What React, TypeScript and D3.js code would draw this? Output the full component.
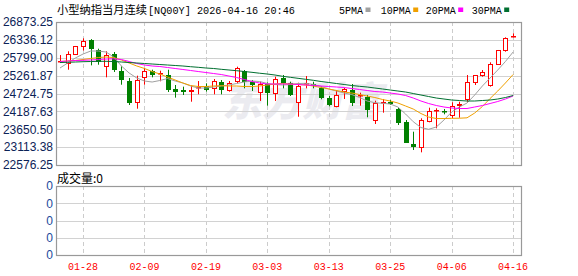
import React from "react";
import * as d3 from "d3";

const dates = [
  "01-23","01-26","01-27","01-28","01-29","01-30","02-02","02-03","02-04","02-05",
  "02-06","02-09","02-10","02-11","02-12","02-13","02-16","02-17","02-18","02-19",
  "02-20","02-23","02-24","02-25","02-26","02-27","03-02","03-03","03-04","03-05",
  "03-06","03-09","03-10","03-11","03-12","03-13","03-16","03-17","03-18","03-19",
  "03-20","03-23","03-24","03-25","03-26","03-27","03-30","03-31","04-01","04-02",
  "04-03","04-06","04-07","04-08","04-09","04-10","04-13","04-14","04-15","04-16",
];

const opens = [
  25680,25641,25891,26163,26340,26041,25572,25912,25391,25091,
  24469,25242,25410,25320,25290,24860,24829,24760,24900,24950,
  24880,25060,24830,25079,25400,25060,24760,25000,24730,25200,
  25030,24478,25040,25010,24880,24580,24349,24770,24820,24680,
  24630,23950,24440,24478,24249,23878,23198,23126,23898,24200,
  24190,24099,24358,24559,25079,25260,24980,25611,26011,26413,
];
const highs = [
  25880,25993,26153,26383,26360,26071,25993,25972,25541,25190,
  25260,25491,25440,25410,25440,24980,24930,24960,25100,25030,
  25160,25130,25100,25530,25430,25130,25079,25060,25230,25280,
  25079,25049,25250,25079,24950,24650,24830,24890,25010,24750,
  24680,24508,24560,24530,24310,23928,23577,23979,24298,24280,
  24259,24460,24478,25280,25280,25430,25662,26032,26413,26533,
];
const lows = [
  25640,25440,25882,26015,25570,25590,25211,25371,24989,24379,
  24268,24989,25211,25091,24770,24600,24680,24478,24700,24780,
  24700,24700,24780,25030,24880,24800,24500,24358,24500,24880,
  24650,24027,24880,24880,24550,24340,24310,24560,24349,24358,
  24010,23808,24148,24380,23778,23258,23027,22957,23859,23679,
  24099,23979,23997,24478,24980,25230,24930,25581,25981,26413,
];
const closes = [
  25692,25921,26143,26311,26070,25692,25891,25440,25109,24439,
  25121,25410,25290,25330,24839,24779,24760,24820,24930,24830,
  25100,24830,25030,25482,25055,24980,25000,24730,25160,25060,
  24680,24950,25055,24950,24580,24358,24680,24845,24430,24690,
  24229,24448,24478,24410,23830,23258,23097,23928,24199,24215,
  24160,24358,24410,25060,25280,25362,25602,26032,26383,26452,
];

const ma5 = [
  25491,25641,25791,25911,26001,26001,25971,25821,25551,25340,
  25190,25100,25070,25115,25175,25100,25040,24950,24890,24890,
  24920,24950,24980,25025,25070,25100,25085,25025,24995,24980,
  24995,25025,25031,24995,24935,24860,24799,24739,24694,24604,
  24499,24448,24430,24409,24319,24108,23877,23703,23649,23718,
  23928,24168,24319,24439,24679,24950,25190,25431,25686,25971,
];
const ma10 = [
  25686,25701,25716,25746,25776,25806,25821,25806,25731,25641,
  25551,25476,25385,25310,25220,25130,25040,24965,24935,24935,
  24950,24959,24950,24950,24935,24935,24950,24980,25010,25025,
  25010,24995,24980,24950,24905,24860,24815,24769,24739,24694,
  24649,24604,24544,24499,24439,24349,24258,24123,24018,23973,
  23973,23979,23982,23994,24138,24334,24574,24799,25040,25295,
];
const ma20 = [
  25686,25701,25716,25722,25731,25746,25761,25767,25746,25686,
  25626,25581,25551,25536,25506,25476,25446,25416,25385,25355,
  25325,25295,25250,25205,25145,25085,25040,25010,25010,25010,
  25010,24995,24980,24965,24950,24935,24920,24905,24875,24845,
  24815,24784,24769,24739,24709,24664,24589,24499,24424,24364,
  24319,24289,24274,24274,24319,24364,24424,24484,24559,24649,
];
const ma30 = [
  25656,25662,25671,25680,25686,25692,25692,25686,25671,25656,
  25641,25626,25611,25596,25581,25566,25551,25530,25512,25491,
  25476,25452,25431,25410,25385,25361,25334,25310,25280,25241,
  25211,25181,25151,25121,25085,25055,25025,24995,24965,24941,
  24920,24890,24860,24829,24799,24769,24724,24679,24634,24589,
  24559,24529,24514,24499,24499,24514,24529,24559,24604,24664,
];

const yTicks = [26873.25, 26336.12, 25799.0, 25261.87, 24724.75, 24187.63, 23650.5, 23113.38, 22576.25];
const xTickDates = ["01-28", "02-09", "02-19", "03-03", "03-13", "03-25", "04-06", "04-16"];
const volTickLabels = ["0", "0", "0", "0", "0"];
const maNames = ["5PMA", "10PMA", "20PMA", "30PMA"];
const titleCn = "小型纳指当月连续";
const titleEn = "[NQ00Y] 2026-04-16 20:46";
const volTitle = "成交量:0";
const watermark = "东方财富";

const W = 578, H = 276;
const L = 56, R = 522, T = 22, B = 165;
const VT = 186, VB = 255;
const RED = "#ff0000";
const GREEN = "#008000";
const maColors = ["#a0a0a0", "#f0a000", "#ff00ff", "#006f30"];
const maSeries = [ma5, ma10, ma20, ma30];

export default function App() {
  const x = d3.scaleLinear().domain([0, dates.length - 1]).range([60, 513.1]);
  const y = d3.scaleLinear().domain([yTicks[yTicks.length - 1], yTicks[0]]).range([B, T]);
  const vy = d3.scaleLinear().domain([0, volTickLabels.length - 1]).range([VB, VT]);
  const fmt = d3.format(".2f");
  const line = d3.line<number>().x((_, i) => x(i)).y((v) => y(v));
  const legendX = [339, 380.7, 425.7, 471.7];
  const legendW = [24, 30, 30, 30];

  return (
    <svg width={W} height={H} style={{ position: "absolute", left: 0, top: 0, background: "#fff" }}>
      {/* title */}
      <text x={57} y={13.5} fontFamily="'Noto Sans CJK SC'" fontSize={11.5} textLength={90} lengthAdjust="spacingAndGlyphs" fill="#000">{titleCn}</text>
      <text x={148} y={13.5} fontFamily="'Liberation Mono', 'DejaVu Sans Mono'" fontSize={11.5} textLength={147} lengthAdjust="spacingAndGlyphs" fill="#000">{titleEn}</text>
      {maNames.map((n, k) => (
        <g key={n}>
          <text x={legendX[k]} y={13.5} fontFamily="'Liberation Mono', 'DejaVu Sans Mono'" fontSize={11.5} textLength={legendW[k]} lengthAdjust="spacingAndGlyphs" fill="#000">{n}</text>
          <rect x={legendX[k] + legendW[k] + 2.5} y={7.5} width={5} height={4.5} fill={maColors[k]} />
        </g>
      ))}

      {/* watermark */}
      <text x={302} y={116} textAnchor="middle" fontFamily="'Noto Sans CJK SC'" fontWeight={900} fontStyle="italic" fontSize={40} fill="#ebebf0">{watermark}</text>

      {/* main grid */}
      {yTicks.map((t, k) => (
        <g key={"y" + k}>
          <line x1={L} x2={R} y1={Math.round(y(t)) + 0.5} y2={Math.round(y(t)) + 0.5} stroke="#d2d2d2" />
          <text x={53} y={y(t) + 4.3} textAnchor="end" fontFamily="'Liberation Sans', Arial" fontSize={12} fill="#0b2257">{fmt(t)}</text>
        </g>
      ))}
      {xTickDates.map((d) => {
        const xi = Math.round(x(dates.indexOf(d))) + 0.5;
        return (
          <g key={"x" + d}>
            <line x1={xi} x2={xi} y1={T} y2={B} stroke="#cccccc" strokeDasharray="4,3" />
            <line x1={xi} x2={xi} y1={VT} y2={VB} stroke="#cccccc" strokeDasharray="4,3" />
            <text x={x(dates.indexOf(d))} y={270} textAnchor="middle" fontFamily="'Liberation Mono', 'DejaVu Sans Mono'" fontSize={11.5} textLength={30} lengthAdjust="spacingAndGlyphs" fill={RED}>{d}</text>
          </g>
        );
      })}

      {/* candles */}
      {dates.map((d, i) => {
        const o = opens[i], c = closes[i], h = highs[i], l = lows[i];
        const up = c >= o;
        const col = up ? RED : GREEN;
        const xc = Math.round(x(i));
        const top = y(Math.max(o, c));
        const bot = y(Math.min(o, c));
        const bh = Math.max(bot - top, 1);
        return (
          <g key={"c" + i}>
            <line x1={xc + 0.5} x2={xc + 0.5} y1={y(h)} y2={y(l)} stroke={col} strokeWidth={1} />
            {up ? (
              bh > 2 ? (
                <rect x={xc - 1.5} y={Math.round(top) + 0.5} width={4} height={Math.round(bh)} fill="#fff" stroke={col} strokeWidth={1} />
              ) : (
                <rect x={xc - 2} y={Math.round(top)} width={5} height={Math.max(Math.round(bh), 1.5)} fill={col} />
              )
            ) : (
              <rect x={xc - 2} y={Math.round(top)} width={5} height={Math.max(Math.round(bh), 1.5)} fill={col} />
            )}
          </g>
        );
      })}

      {/* moving averages */}
      {maSeries.map((s, k) => (
        <path key={"ma" + k} d={line(s) || ""} fill="none" stroke={maColors[k]} strokeWidth={1} />
      ))}

      <rect x={L + 0.5} y={T + 0.5} width={R - L - 1} height={B - T} fill="none" stroke="#999" strokeWidth={1.2} />

      {/* volume panel */}
      <text x={57} y={182.5} fontFamily="'Noto Sans CJK SC'" fontSize={12} fill="#000">{volTitle}</text>
      {volTickLabels.map((t, k) => (
        <g key={"v" + k}>
          {k > 0 && k < volTickLabels.length - 1 && (
            <line x1={L} x2={R} y1={Math.round(vy(k)) + 0.5} y2={Math.round(vy(k)) + 0.5} stroke="#d2d2d2" />
          )}
          <text x={53} y={vy(k) + 4.3} textAnchor="end" fontFamily="'Liberation Sans', Arial" fontSize={12} fill="#1b4a9c">{t}</text>
        </g>
      ))}
      <rect x={L + 0.5} y={VT + 0.5} width={R - L - 1} height={VB - VT} fill="none" stroke="#999" strokeWidth={1.2} />
    </svg>
  );
}
